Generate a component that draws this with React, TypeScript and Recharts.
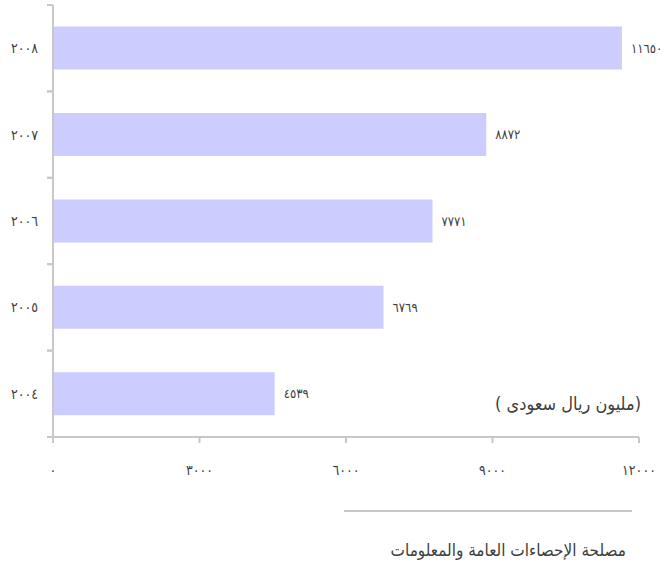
import { BarChart, Bar, XAxis, YAxis, LabelList } from 'recharts'

const years = [2008, 2007, 2006, 2005, 2004]
const values = [11650, 8872, 7771, 6769, 4539]
const xTicks = [0, 3000, 6000, 9000, 12000]
const unitLabel = '( مليون ريال سعودى)'
const sourceLabel = 'مصلحة الإحصاءات العامة والمعلومات'

const data = years.map((year, i) => ({ year, value: values[i] }))

const W = 665
const H = 565
const M = { top: 5, right: 26, left: 0, bottom: 98 }
const AXIS = '#c8c8c8'
const TEXT = '#404040'
const FONT = '"DejaVu Sans Condensed", "DejaVu Sans", sans-serif'
const BAND = (H - M.top - M.bottom - 30) / years.length

// western digits -> arabic-indic
function toArabic(n: number | string): string {
  return String(n).replace(/[0-9]/g, (d) => String.fromCharCode(0x0660 + Number(d)))
}

// category ticks sit between the bars, not at their centres
function YearTick(props: any) {
  const { x, y, payload } = props
  return (
    <g>
      <line x1={x + 9} x2={x + 15} y1={y - BAND / 2} y2={y - BAND / 2} stroke={AXIS} strokeWidth={2} />
      <line x1={x + 9} x2={x + 15} y1={y + BAND / 2} y2={y + BAND / 2} stroke={AXIS} strokeWidth={2} />
      <text x={x} y={y} dy="0.35em" textAnchor="end" fill={TEXT} fontSize={14} fontFamily={FONT}>
        {toArabic(payload.value)}
      </text>
    </g>
  )
}

export default function App() {
  return (
    <div style={{ position: 'absolute', left: 0, top: 0, width: W, height: H, background: '#fff' }}>
      <BarChart width={W} height={H} data={data} layout="vertical" margin={M} barCategoryGap="25%">
        <XAxis
          type="number"
          domain={[0, 12000]}
          ticks={xTicks}
          tickFormatter={(v) => toArabic(v)}
          axisLine={{ stroke: AXIS, strokeWidth: 2 }}
          tickLine={{ stroke: AXIS, strokeWidth: 2 }}
          tickSize={6}
          tickMargin={22}
          tick={{ fill: TEXT, fontSize: 14, fontFamily: FONT }}
        />
        <YAxis
          type="category"
          dataKey="year"
          width={53}
          axisLine={{ stroke: AXIS, strokeWidth: 2 }}
          tickLine={false}
          tickSize={6}
          tickMargin={9}
          tick={<YearTick />}
        />
        <Bar dataKey="value" fill="#ccccff" isAnimationActive={false}>
          <LabelList
            dataKey="value"
            position="right"
            offset={9}
            formatter={(v: any) => toArabic(v)}
            style={{ fill: TEXT, fontSize: 13, fontFamily: FONT }}
          />
        </Bar>
      </BarChart>
      <svg width={W} height={H} style={{ position: 'absolute', left: 0, top: 0, pointerEvents: 'none' }}>
        <text x={641} y={404} dy="0.35em" textAnchor="end" fill={TEXT} fontSize={18} fontFamily={FONT}>
          {unitLabel}
        </text>
        <line x1={344} x2={632} y1={511} y2={511} stroke={AXIS} strokeWidth={2} />
        <text x={626} y={550} dy="0.35em" textAnchor="end" fill={TEXT} fontSize={17} fontFamily={FONT}>
          {sourceLabel}
        </text>
      </svg>
    </div>
  )
}
